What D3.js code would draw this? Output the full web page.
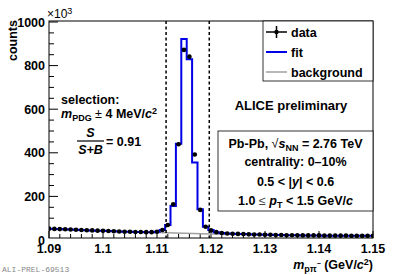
<!DOCTYPE html>
<html><head><meta charset="UTF-8">
<script src="https://cdn.jsdelivr.net/npm/d3@7/dist/d3.min.js"></script>
<style>
  body { margin: 0; background: white; }
  svg { font-family: "Liberation Sans", Arial, Helvetica, sans-serif; font-weight: bold; }
</style>
</head>
<body>
<svg id="chart" width="405" height="275"></svg>
<script>
// bin centres 1.090 ... 1.150 (GeV/c2), counts in units of 10^3
var binCenters = d3.range(61).map(function (i) { return +(1.090 + i * 0.001).toFixed(3); });
var dataCounts = [52, 51, 50, 49, 48, 47, 46, 45, 44, 43,
                  42, 41, 40, 39, 38, 38, 37, 37, 36, 36,
                  38, 46, 69, 164, 439, 872, 841, 392, 138, 61,
                  44, 36, 32, 30, 29, 28, 27, 26, 25, 25,
                  24, 24, 23, 23, 22, 22, 22, 21, 21, 21,
                  21, 20, 20, 20, 20, 20, 19, 19, 19, 19, 19];
var fitCounts =  [52, 51, 50, 49, 48, 47, 46, 45, 44, 43,
                  42, 41, 40, 39, 38, 38, 37, 37, 36, 36,
                  38, 46, 69, 156, 441, 922, 829, 355, 141, 61,
                  46, 36, 32, 30, 29, 28, 27, 26, 25, 25,
                  24, 24, 23, 23, 22, 22, 22, 21, 21, 21,
                  21, 20, 20, 20, 20, 20, 19, 19, 19, 19, 19];
var bgX = [1.09, 1.10, 1.11, 1.12, 1.13, 1.14, 1.15];
var bgCounts = [49, 41, 34, 28, 24, 21, 19];
var selection = [1.11168, 1.11968];
var xTicks = [1.09, 1.10, 1.11, 1.12, 1.13, 1.14, 1.15];
var xTickLabels = ["1.09", "1.1", "1.11", "1.12", "1.13", "1.14", "1.15"];
var yTicks = [0, 200, 400, 600, 800, 1000];

var svg = d3.select("#chart");
var pLeft = 49, pRight = 373, pTop = 21, pBottom = 238;

var x = d3.scaleLinear().domain([1.09, 1.15]).range([pLeft, pRight]);
var y = d3.scaleLinear().domain([0, 1000]).range([240, 22]);

svg.append("clipPath").attr("id", "clip")
  .append("rect").attr("x", pLeft).attr("y", pTop)
  .attr("width", pRight - pLeft).attr("height", pBottom - pTop);

// frame
svg.append("rect").attr("x", pLeft).attr("y", pTop)
  .attr("width", pRight - pLeft).attr("height", pBottom - pTop)
  .attr("fill", "none").attr("stroke", "black").attr("stroke-width", 1);

// x ticks (inside, pointing up)
var xMinor = d3.range(0, 31).map(function (i) { return 1.09 + i * 0.002; });
svg.append("g").selectAll("line").data(xMinor).enter().append("line")
  .attr("x1", function (d) { return x(d); }).attr("x2", function (d) { return x(d); })
  .attr("y1", pBottom).attr("y2", function (d, i) { return i % 5 === 0 ? pBottom - 7 : pBottom - 4; })
  .attr("stroke", "black");
svg.append("g").selectAll("text").data(xTicks).enter().append("text")
  .attr("x", function (d) { return x(d); }).attr("y", 253)
  .attr("text-anchor", "middle").attr("font-size", 12.5)
  .text(function (d, i) { return xTickLabels[i]; });

// y ticks
var yMinor = d3.range(1, 21).map(function (i) { return i * 50; });
svg.append("g").selectAll("line").data(yMinor).enter().append("line")
  .attr("x1", pLeft).attr("x2", function (d) { return d % 200 === 0 ? pLeft + 9 : pLeft + 5; })
  .attr("y1", function (d) { return y(d); }).attr("y2", function (d) { return y(d); })
  .attr("stroke", "black");
svg.append("g").selectAll("text").data(yTicks).enter().append("text")
  .attr("x", 45).attr("y", function (d) { return y(d) + 4.5; })
  .attr("text-anchor", "end").attr("font-size", 12.5)
  .text(function (d) { return d; });

var plot = svg.append("g").attr("clip-path", "url(#clip)");

// background
plot.append("path").datum(bgCounts)
  .attr("fill", "none").attr("stroke", "#a0a0a0").attr("stroke-width", 1.5)
  .attr("d", d3.line().curve(d3.curveMonotoneX)
    .x(function (d, i) { return x(bgX[i]); }).y(function (d) { return y(d); }));

// fit (histogram style)
plot.append("path").datum(fitCounts)
  .attr("fill", "none").attr("stroke", "#0000e6").attr("stroke-width", 2)
  .attr("d", d3.line().curve(d3.curveStep)
    .x(function (d, i) { return x(binCenters[i]); }).y(function (d) { return y(d); }));

// data points
plot.append("g").selectAll("circle").data(dataCounts).enter().append("circle")
  .attr("cx", function (d, i) { return x(binCenters[i]); })
  .attr("cy", function (d) { return y(d); })
  .attr("r", 2.3).attr("fill", "black");

// selection window
svg.append("g").selectAll("line").data(selection).enter().append("line")
  .attr("x1", function (d) { return x(d); }).attr("x2", function (d) { return x(d); })
  .attr("y1", pTop).attr("y2", pBottom)
  .attr("stroke", "black").attr("stroke-width", 1.5).attr("stroke-dasharray", "3,2.5");

// axis titles
svg.append("text").attr("transform", "translate(17,20) rotate(-90)")
  .attr("text-anchor", "end").attr("font-size", 12.5).text("counts");
var e3 = svg.append("text").attr("x", 47).attr("y", 18).attr("font-size", 12).attr("font-weight", "normal");
e3.append("tspan").text("×10");
e3.append("tspan").attr("dy", -4).attr("font-size", 9).text("3");

var xt = svg.append("text").attr("x", 373).attr("y", 269).attr("text-anchor", "end").attr("font-size", 12.5);
xt.append("tspan").attr("font-style", "italic").text("m");
xt.append("tspan").attr("font-size", 9).attr("dy", 3).text("pπ");
xt.append("tspan").attr("font-size", 7).attr("dy", -6).text("−");
xt.append("tspan").attr("dy", 3).text(" (GeV/");
xt.append("tspan").attr("font-style", "italic").text("c");
xt.append("tspan").attr("font-size", 9).attr("dy", -4).text("2");
xt.append("tspan").attr("dy", 4).text(")");

// legend
svg.append("rect").attr("x", 263).attr("y", 21).attr("width", 110).attr("height", 60)
  .attr("fill", "white").attr("stroke", "black").attr("stroke-width", 0.8);
var legItems = [
  { label: "data", color: "black", w: 1.5 },
  { label: "fit", color: "#0000e6", w: 2 },
  { label: "background", color: "#a0a0a0", w: 1.5 }
];
var leg = svg.append("g").selectAll("g").data(legItems).enter().append("g")
  .attr("transform", function (d, i) { return "translate(0," + (32 + i * 20) + ")"; });
leg.append("line").attr("x1", 266).attr("x2", 287).attr("y1", 0).attr("y2", 0)
  .attr("stroke", function (d) { return d.color; }).attr("stroke-width", function (d) { return d.w; });
leg.filter(function (d, i) { return i === 0; }).append("line")
  .attr("x1", 276.5).attr("x2", 276.5).attr("y1", -6).attr("y2", 6)
  .attr("stroke", "black").attr("stroke-width", 1.5);
leg.filter(function (d, i) { return i === 0; }).append("circle")
  .attr("cx", 276.5).attr("cy", 0).attr("r", 2.2).attr("fill", "black");
leg.append("text").attr("x", 291).attr("y", 4.5).attr("font-size", 12.5)
  .text(function (d) { return d.label; });

// ALICE preliminary
svg.append("text").attr("x", 291).attr("y", 110).attr("text-anchor", "middle")
  .attr("font-size", 13).text("ALICE preliminary");

// info box
svg.append("rect").attr("x", 218).attr("y", 131).attr("width", 155).attr("height", 80)
  .attr("fill", "white").attr("stroke", "black").attr("stroke-width", 0.8);
var cx = 295.5;
var t1 = svg.append("text").attr("x", cx).attr("y", 147.5).attr("text-anchor", "middle").attr("font-size", 12.5);
t1.append("tspan").text("Pb-Pb, ");
t1.append("tspan").attr("font-weight", "normal").text("√");
t1.append("tspan").attr("font-style", "italic").text("s");
t1.append("tspan").attr("font-size", 9).attr("dy", 3).text("NN");
t1.append("tspan").attr("dy", -3).text(" = 2.76 TeV");
svg.append("text").attr("x", cx).attr("y", 166).attr("text-anchor", "middle").attr("font-size", 12.5)
  .text("centrality: 0–10%");
var t3 = svg.append("text").attr("x", cx).attr("y", 185.5).attr("text-anchor", "middle").attr("font-size", 12.5);
t3.append("tspan").text("0.5 < |");
t3.append("tspan").attr("font-style", "italic").text("y");
t3.append("tspan").text("| < 0.6");
var t4 = svg.append("text").attr("x", cx).attr("y", 204.5).attr("text-anchor", "middle").attr("font-size", 12.5);
t4.append("tspan").text("1.0 ");
t4.append("tspan").attr("font-weight", "normal").attr("fill", "#444").text("≤");
t4.append("tspan").text(" ");
t4.append("tspan").attr("font-style", "italic").text("p");
t4.append("tspan").attr("font-size", 9).attr("dy", 3).text("T");
t4.append("tspan").attr("dy", -3).text(" < 1.5 GeV/");
t4.append("tspan").attr("font-style", "italic").text("c");

// selection text
svg.append("text").attr("x", 61).attr("y", 104).attr("font-size", 12.5).text("selection:");
var s2 = svg.append("text").attr("x", 61).attr("y", 117.5).attr("font-size", 12.5);
s2.append("tspan").attr("font-style", "italic").text("m");
s2.append("tspan").attr("font-size", 9).attr("dy", 3).text("PDG");
s2.append("tspan").attr("dy", -3).attr("font-weight", "normal").text(" ± ");
s2.append("tspan").text("4 MeV/");
s2.append("tspan").attr("font-style", "italic").text("c");
s2.append("tspan").attr("font-size", 9).attr("dy", -4).text("2");

// S/(S+B)
svg.append("text").attr("x", 90.5).attr("y", 137).attr("text-anchor", "middle")
  .attr("font-size", 12.5).attr("font-style", "italic").text("S");
svg.append("line").attr("x1", 77).attr("x2", 104).attr("y1", 141).attr("y2", 141)
  .attr("stroke", "black").attr("stroke-width", 1.2);
svg.append("text").attr("x", 90.5).attr("y", 153.5).attr("text-anchor", "middle")
  .attr("font-size", 12.5).attr("font-style", "italic").text("S+B");
svg.append("text").attr("x", 106).attr("y", 145.5).attr("font-size", 12.5).text("= 0.91");

// preliminary tag
svg.append("text").attr("x", 2).attr("y", 272).attr("font-size", 8)
  .attr("font-family", "'Liberation Mono', 'DejaVu Sans Mono', monospace")
  .attr("font-weight", "normal").attr("fill", "#888").text("ALI-PREL-69513");
</script>
</body></html>
